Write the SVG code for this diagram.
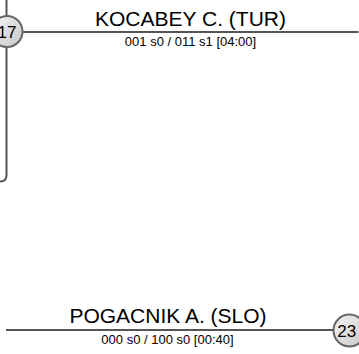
<svg xmlns="http://www.w3.org/2000/svg" width="359" height="354" viewBox="0 0 359 354">
<defs>
<linearGradient id="g" x1="0" y1="0" x2="1" y2="1">
<stop offset="0" stop-color="#f4f4f4"/>
<stop offset="1" stop-color="#c8c8c8"/>
</linearGradient>
<style>
.ln{fill:none;stroke:#555;stroke-width:2}
.nd{fill:url(#g);stroke:#666;stroke-width:2}
.nm{font-family:"Liberation Sans",Arial,sans-serif;font-size:21px;fill:#000;text-anchor:middle}
.sb{font-family:"Liberation Sans",Arial,sans-serif;font-size:13px;fill:#000;text-anchor:middle}
.nu{font-family:"Liberation Sans",Arial,sans-serif;font-size:17px;fill:#000;text-anchor:middle}
</style>
</defs>
<g id="connectors">
<path class="ln" d="M6.5 0 V16.5"/>
<path class="ln" d="M6.5 47 V175 Q6.5 181.5 0 181.5"/>
<path class="ln" d="M22.5 32 H358.5"/>
<path class="ln" d="M6 330 H333"/>
</g>
<g id="match-top">
<text class="nm" x="190.5" y="26">KOCABEY C. (TUR)</text>
<text class="sb" x="190.5" y="46">001 s0 / 011 s1 [04:00]</text>
</g>
<g id="match-bottom">
<text class="nm" x="168" y="323">POGACNIK A. (SLO)</text>
<text class="sb" x="167.5" y="344">000 s0 / 100 s0 [00:40]</text>
</g>
<g id="node-17">
<circle class="nd" cx="7" cy="31.5" r="15.5"/>
<text class="nu" x="7" y="37.5">17</text>
</g>
<g id="node-23">
<circle class="nd" cx="349.5" cy="330.5" r="16"/>
<text class="nu" x="346.7" y="336.5">23</text>
</g>
</svg>
